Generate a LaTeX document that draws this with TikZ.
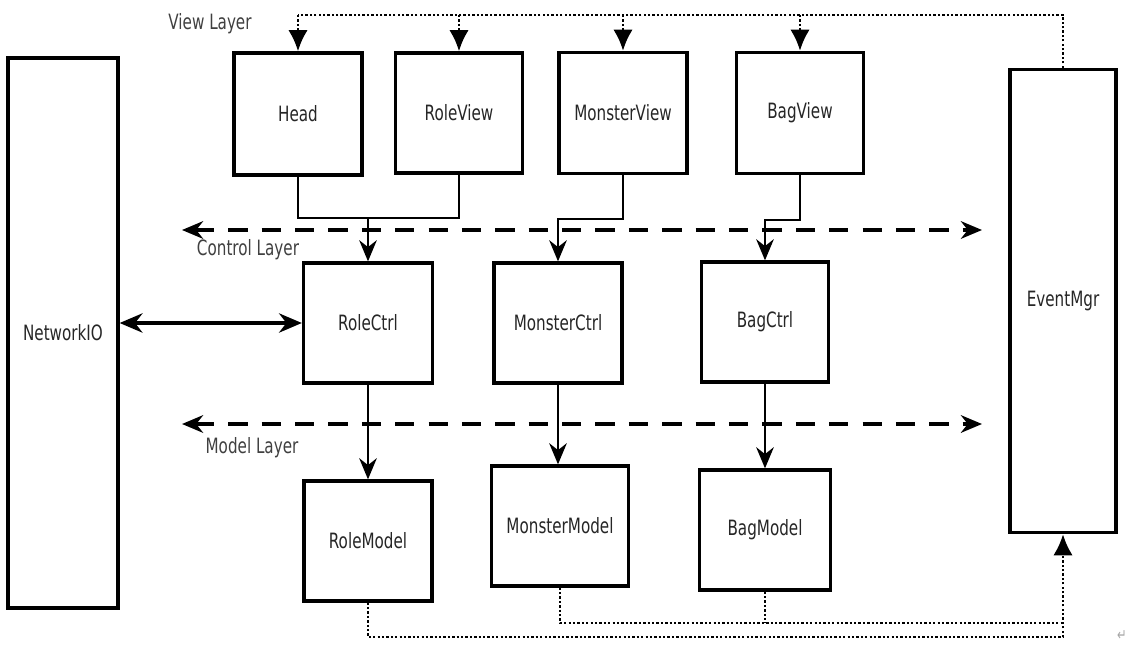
\documentclass[tikz,border=0pt]{standalone}
\usepackage{fontspec}
\setmainfont{DejaVu Sans}[FakeStretch=0.72]
\usetikzlibrary{arrows.meta}

\tikzset{
  box/.style={draw, line width=1.9pt, inner sep=0pt, font=\fontsize{12}{14}\selectfont, text=black!85},
  link/.style={line width=1.4pt},
  flow/.style={line width=1.4pt, -{Stealth[length=12pt,width=10pt]}},
  layer/.style={line width=2.2pt, dash pattern=on 11pt off 8pt, {Stealth[length=12pt,width=10pt]}-{Stealth[length=12pt,width=10pt]}},
  signal/.style={line width=1.6pt, dash pattern=on 1.3pt off 1.2pt},
  tag/.style={font=\fontsize{12}{14}\selectfont, text=black!75}
}

\begin{document}
\begin{tikzpicture}[x=0.02cm, y=-0.02cm]
    \useasboundingbox (0,0) rectangle (1129,649);

    % side boxes
    \node[box, minimum width=110*0.02cm, minimum height=550*0.02cm] (networkio) at (63,333) {NetworkIO};
    \node[box, minimum width=106*0.02cm, minimum height=463*0.02cm] (eventmgr) at (1063,301) {EventMgr};

    % view layer
    \node[box, minimum width=128*0.02cm, minimum height=122*0.02cm] (head) at (298,114) {Head};
    \node[box, minimum width=127*0.02cm, minimum height=120*0.02cm] (roleview) at (459,113) {RoleView};
    \node[box, minimum width=128*0.02cm, minimum height=121*0.02cm] (monsterview) at (623,113) {MonsterView};
    \node[box, minimum width=127*0.02cm, minimum height=121*0.02cm] (bagview) at (800,113) {BagView};

    % control layer
    \node[box, minimum width=129*0.02cm, minimum height=120*0.02cm] (rolectrl) at (368,323) {RoleCtrl};
    \node[box, minimum width=128*0.02cm, minimum height=120*0.02cm] (monsterctrl) at (558,323) {MonsterCtrl};
    \node[box, minimum width=127*0.02cm, minimum height=120*0.02cm] (bagctrl) at (765,322) {BagCtrl};

    % model layer
    \node[box, minimum width=128*0.02cm, minimum height=120*0.02cm] (rolemodel) at (368,541) {RoleModel};
    \node[box, minimum width=137*0.02cm, minimum height=120*0.02cm] (monstermodel) at (560,526) {MonsterModel};
    \node[box, minimum width=131*0.02cm, minimum height=120*0.02cm] (bagmodel) at (765,530) {BagModel};

    % layer labels
    \node[tag] (viewtag) at (210,24) {View Layer};
    \node[tag] (ctrltag) at (248,250) {Control Layer};
    \node[tag] (modeltag) at (252,448) {Model Layer};
    \node[text=gray!70, font=\small] (retmark) at (1122,636) {↵};

    % layer separators
    \coordinate (ctrlL) at (182,230);
    \coordinate (ctrlR) at (982,230);
    \coordinate (modelL) at (182,424);
    \coordinate (modelR) at (982,424);
    \draw[layer] (ctrlL) -- (ctrlR);
    \draw[layer] (modelL) -- (modelR);

    % view -> ctrl
    \coordinate (rolejoin) at (368,218);
    \coordinate (monsterjoin) at (0,219);
    \coordinate (bagjoin) at (0,220);
    \draw[link] (head.south) |- (rolejoin) -| (roleview.south);
    \draw[flow] (rolejoin) -- (rolectrl.north);
    \draw[flow] (monsterview.south) -- (monsterview.south |- monsterjoin) -| (monsterctrl.north);
    \draw[flow] (bagview.south) -- (bagview.south |- bagjoin) -| (bagctrl.north);

    % ctrl -> model
    \draw[flow] (rolectrl) -- (rolemodel);
    \draw[flow] (monsterctrl.south) -- (monsterctrl.south |- monstermodel.north);
    \draw[flow] (bagctrl) -- (bagmodel);

    % network
    \draw[line width=1.8pt, {Stealth[length=13pt,width=11pt]}-{Stealth[length=13pt,width=11pt]}] (networkio.east |- rolectrl) -- (rolectrl.west);

    % events to views
    \coordinate (topbus) at (298,15);
    \draw[signal] (eventmgr.north) |- (topbus);
    \draw[signal, -{Latex[length=12pt,width=11pt]}] (topbus) -- (head.north);
    \draw[signal, -{Latex[length=12pt,width=11pt]}] (roleview.north |- topbus) -- (roleview.north);
    \draw[signal, -{Latex[length=12pt,width=11pt]}] (monsterview.north |- topbus) -- (monsterview.north);
    \draw[signal, -{Latex[length=12pt,width=11pt]}] (bagview.north |- topbus) -- (bagview.north);

    % models to events
    \coordinate (botbus) at (0,637);
    \coordinate (midbus) at (0,623);
    \draw[signal, -{Latex[length=12pt,width=11pt]}] (rolemodel.south) |- (eventmgr.south |- botbus) -- (eventmgr.south);
    \draw[signal] (monstermodel.south) |- (eventmgr.south |- midbus);
    \draw[signal] (bagmodel.south) -- (bagmodel.south |- midbus);
\end{tikzpicture}
\end{document}
